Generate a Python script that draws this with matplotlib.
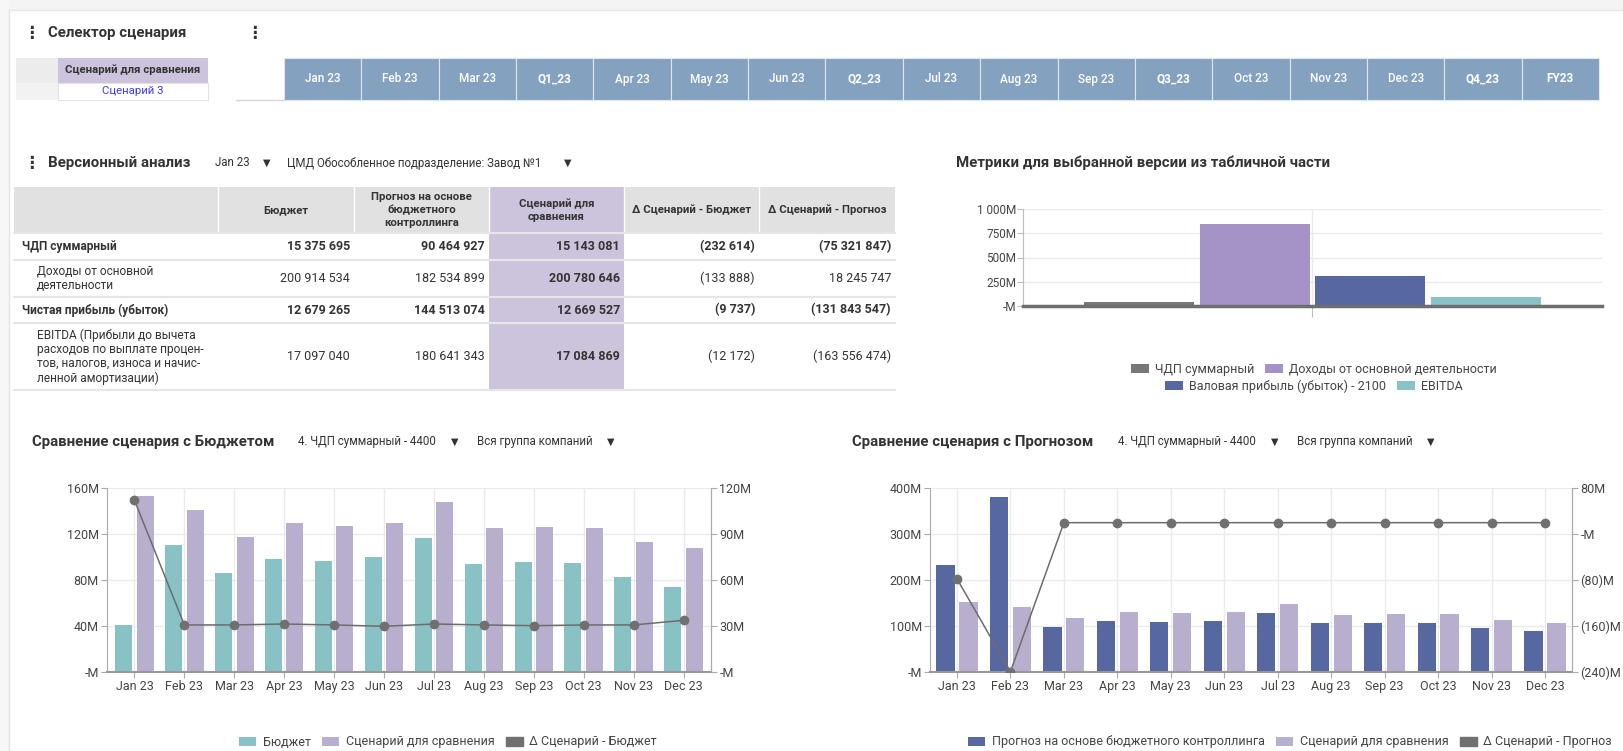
import numpy as np
import matplotlib
matplotlib.use("Agg")
import matplotlib.pyplot as plt
from matplotlib.patches import Rectangle

plt.rcParams['font.family'] = ['Roboto', 'DejaVu Sans']

# ---- data ----
periods = ["Jan 23", "Feb 23", "Mar 23", "Q1_23", "Apr 23", "May 23", "Jun 23", "Q2_23",
           "Jul 23", "Aug 23", "Sep 23", "Q3_23", "Oct 23", "Nov 23", "Dec 23", "Q4_23", "FY23"]

table_cols = ["Бюджет", "Прогноз на основе\nбюджетного\nконтроллинга", "Сценарий для\nсравнения",
              "Δ Сценарий - Бюджет", "Δ Сценарий - Прогноз"]
table_rows = ["ЧДП суммарный", "Доходы от основной\nдеятельности", "Чистая прибыль (убыток)",
              "EBITDA (Прибыли до вычета\nрасходов по выплате процен-\nтов, налогов, износа и начис-\nленной амортизации)"]
table_bold = [True, False, True, False]
table_values = [
    ["15 375 695", "90 464 927", "15 143 081", "(232 614)", "(75 321 847)"],
    ["200 914 534", "182 534 899", "200 780 646", "(133 888)", "18 245 747"],
    ["12 679 265", "144 513 074", "12 669 527", "(9 737)", "(131 843 547)"],
    ["17 097 040", "180 641 343", "17 084 869", "(12 172)", "(163 556 474)"],
]

metric_names = ["ЧДП суммарный", "Доходы от основной деятельности",
                "Валовая прибыль (убыток) - 2100", "EBITDA"]
metric_values = [38, 847, 312, 94]  # M

months = ["Jan 23", "Feb 23", "Mar 23", "Apr 23", "May 23", "Jun 23",
          "Jul 23", "Aug 23", "Sep 23", "Oct 23", "Nov 23", "Dec 23"]
budget = [40.9, 110.4, 86.4, 98.6, 96.5, 99.7, 116.8, 94.2, 95.7, 94.8, 82.6, 73.9]
scenario = [152.8, 141.2, 117.1, 129.9, 127.2, 129.9, 148.1, 124.9, 126.1, 125.5, 113.3, 107.5]
delta_budget = [112.0, 30.7, 30.7, 31.3, 30.7, 29.8, 31.3, 30.7, 30.2, 30.7, 30.7, 33.7]
forecast = [231.9, 380.4, 97.8, 110.9, 108.7, 110.9, 128.3, 106.5, 106.5, 106.5, 94.9, 89.1]
delta_forecast = [-78.0, -239.4, 19.7, 19.7, 19.7, 19.7, 19.7, 19.7, 19.7, 19.7, 19.7, 19.7]

# colors
TEAL = "#89c2c4"
LILAC = "#b8afcf"
NAVY = "#5767a0"
GRAY = "#777777"
VIOLET = "#a593c8"
HEAD_BLUE = "#84a2c0"
PURPLE_COL = "#cbc4dc"
TXT = "#333333"

W, H = 1624, 751
fig = plt.figure(figsize=(W / 100, H / 100), dpi=100)
fig.patch.set_facecolor("white")


def px_axes(x0, y0, x1, y1):
    return fig.add_axes([x0 / W, 1 - y1 / H, (x1 - x0) / W, (y1 - y0) / H])


# background / layout canvas in pixel coordinates
bg = fig.add_axes([0, 0, 1, 1])
bg.set_xlim(0, W)
bg.set_ylim(H, 0)
bg.axis("off")


def rect(x0, y0, x1, y1, color, **kw):
    bg.add_patch(Rectangle((x0, y0), x1 - x0, y1 - y0, facecolor=color, **kw))


rect(0, 0, W, 10, "#f4f4f4", lw=0)
rect(0, 0, 9, H, "#f7f7f7", lw=0)
bg.plot([9, 9], [10, H], color="#e4e4e4", lw=1)
bg.plot([9, W], [10, 10], color="#e8e8e8", lw=1)

dots = dict(fontsize=12, fontweight="bold", color=TXT, va="center", ha="center",
            family=["DejaVu Sans"])
title_kw = dict(fontsize=10.8, fontweight="bold", color=TXT, va="center")
arrow_kw = dict(fontsize=7, color=TXT, va="center", ha="center", family=["DejaVu Sans"])

# ---- scenario selector ----
bg.text(31, 33, "⋮", **dots)
bg.text(48, 33, "Селектор сценария", **title_kw)
bg.text(254, 33, "⋮", **dots)

rect(16, 58, 58, 83, "#ececec", lw=0)
rect(58, 58, 208, 83, PURPLE_COL, lw=0)
rect(16, 83, 58, 100, "#f2f2f2", lw=0)
rect(58, 83, 208, 100, "white", edgecolor="#e3e3e3", lw=0.8)
bg.text(133, 70, "Сценарий для сравнения", fontsize=8.2, fontweight="bold", color=TXT,
        ha="center", va="center")
bg.text(133, 91.5, "Сценарий 3", fontsize=8.2, color="#3a3aff", ha="center", va="center")
bg.plot([236, 284], [100, 100], color="#d6d6d6", lw=1)

cell_w = (1599 - 284) / len(periods)
for i, p in enumerate(periods):
    x0 = 284 + i * cell_w
    rect(x0, 58, x0 + cell_w, 100, HEAD_BLUE, edgecolor="#dfe6ee", lw=0.8)
    bold = p.startswith("Q") or p.startswith("FY")
    bg.text(x0 + cell_w / 2, 79, p, fontsize=8.5, color="white",
            fontweight="bold" if bold else "medium", ha="center", va="center")

# ---- version analysis table ----
bg.text(31, 163, "⋮", **dots)
bg.text(48, 163, "Версионный анализ", **title_kw)
bg.text(215, 163, "Jan 23", fontsize=8.3, color=TXT, va="center")
bg.text(267, 163, "▼", **arrow_kw)
bg.text(287, 163, "ЦМД Обособленное подразделение: Завод №1", fontsize=8.3, color=TXT, va="center")
bg.text(568, 163, "▼", **arrow_kw)

col_edges = [14, 218, 354, 489, 624, 759, 895]
row_edges = [187, 233, 260, 297, 323, 390]
rect(col_edges[0], row_edges[0], col_edges[-1], row_edges[1], "#e1e1e1", lw=0)
rect(col_edges[3], row_edges[0], col_edges[4], row_edges[-1], PURPLE_COL, lw=0)
for c in col_edges[1:-1]:
    bg.plot([c, c], [row_edges[0], row_edges[1]], color="white", lw=1)
for r in row_edges[1:]:
    bg.plot([col_edges[0], col_edges[-1]], [r, r], color="#e6e6e6", lw=1.6)

for j, name in enumerate(table_cols):
    cx = (col_edges[j + 1] + col_edges[j + 2]) / 2
    bg.text(cx, (row_edges[0] + row_edges[1]) / 2, name, fontsize=8.2, fontweight="bold",
            color=TXT, ha="center", va="center", linespacing=1.35)

for i, name in enumerate(table_rows):
    cy = (row_edges[i + 1] + row_edges[i + 2]) / 2
    bold = table_bold[i]
    bg.text(22 if bold else 37, cy, name, fontsize=8.6, color=TXT, va="center",
            fontweight="bold" if bold else "normal", linespacing=1.12)
    for j, v in enumerate(table_values[i]):
        b = bold or j == 2
        bg.text(col_edges[j + 2] - 4, cy, v, fontsize=9, color=TXT, va="center", ha="right",
                fontweight="bold" if b else "normal")

# ---- metrics chart ----
bg.text(956, 163, "Метрики для выбранной версии из табличной части", **title_kw)
ax1 = px_axes(1023, 209, 1602, 306)
offsets = [-0.3, -0.1, 0.1, 0.3]
m_colors = [GRAY, VIOLET, NAVY, TEAL]
m_bars = []
for k in range(len(metric_names)):
    b = ax1.bar(offsets[k], metric_values[k], width=0.19, color=m_colors[k], zorder=2,
                label=metric_names[k])
    m_bars.append(b)
ax1.set_xlim(-0.5, 0.5)
ax1.set_ylim(0, 1000)
ax1.set_yticks([0, 250, 500, 750, 1000])
ax1.set_yticklabels(["-M", "250M", "500M", "750M", "1 000M"])
ax1.set_xticks([0])
ax1.set_xticklabels([""])
ax1.tick_params(axis="x", length=8, color="#bdbdbd")
ax1.tick_params(axis="y", length=4, color="#bdbdbd", labelsize=8.5, labelcolor="#444", pad=1)
ax1.grid(True, color="#ebebeb", lw=1, zorder=0)
ax1.set_axisbelow(True)
for s in ["top", "right"]:
    ax1.spines[s].set_visible(False)
ax1.spines["left"].set_color("#bdbdbd")
ax1.spines["bottom"].set_color("#6e6e6e")
ax1.spines["bottom"].set_linewidth(2.5)

leg_kw = dict(frameon=False, fontsize=9, handlelength=1.4, handleheight=0.75,
              handletextpad=0.5, columnspacing=0.9, loc="center", borderpad=0)
l1 = fig.legend([m_bars[0], m_bars[1]], metric_names[:2], ncol=2,
                bbox_to_anchor=(1314 / W, 1 - 369 / H), **leg_kw)
l2 = fig.legend([m_bars[2], m_bars[3]], metric_names[2:], ncol=2,
                bbox_to_anchor=(1314 / W, 1 - 386 / H), **leg_kw)
for lg in (l1, l2):
    for t in lg.get_texts():
        t.set_color("#444")


# ---- comparison charts ----
def combo_chart(box, first, first_color, first_label, line_vals, line_label,
                lim_l, ticks_l, labels_l, lim_r, ticks_r, labels_r, xpad, title, tx, legend_x):
    ax = px_axes(*box)
    x = np.arange(len(months))
    b1 = ax.bar(x - 0.215, first, width=0.34, color=first_color, zorder=2)
    b2 = ax.bar(x + 0.215, scenario, width=0.34, color=LILAC, zorder=2)
    ax.set_xlim(-xpad, len(months) - 1 + xpad)
    ax.set_ylim(*lim_l)
    ax.set_yticks(ticks_l)
    ax.set_yticklabels(labels_l)
    ax.set_xticks(x)
    ax.set_xticklabels(months)
    ax.grid(True, color="#ebebeb", lw=1, zorder=0)
    ax.set_axisbelow(True)
    ax.tick_params(length=4, color="#aaaaaa", labelsize=9, labelcolor="#444", pad=2)
    ax.spines["top"].set_visible(False)
    for s in ["left", "right"]:
        ax.spines[s].set_color("#aaaaaa")
    ax.spines["bottom"].set_color("#999999")
    ax.spines["bottom"].set_linewidth(1.5)

    ax2 = ax.twinx()
    ax2.plot(x, line_vals, color="#6d6d6d", lw=1.1, marker="o", markersize=6,
             markerfacecolor="#707070", markeredgecolor="#707070", zorder=3)
    ax2.set_ylim(*lim_r)
    ax2.set_yticks(ticks_r)
    ax2.set_yticklabels(labels_r)
    ax2.tick_params(length=4, color="#aaaaaa", labelsize=9, labelcolor="#444", pad=2)
    ax2.spines["top"].set_visible(False)
    ax2.spines["right"].set_color("#aaaaaa")
    ax2.spines["left"].set_visible(False)
    ax2.spines["bottom"].set_visible(False)

    bg.text(tx, 442, title, **title_kw)
    bg.text(tx + 266, 442, "4. ЧДП суммарный - 4400", fontsize=8.3, color=TXT, va="center")
    bg.text(tx + 423, 442, "▼", **arrow_kw)
    bg.text(tx + 445, 442, "Вся группа компаний", fontsize=8.3, color=TXT, va="center")
    bg.text(tx + 579, 442, "▼", **arrow_kw)

    gray_patch = Rectangle((0, 0), 1, 1, color="#707070")
    lg = fig.legend([b1, b2, gray_patch], [first_label, "Сценарий для сравнения", line_label],
                    ncol=3, bbox_to_anchor=(legend_x / W, 1 - 742 / H), **leg_kw)
    for t in lg.get_texts():
        t.set_color("#444")


combo_chart((107, 488, 711, 672), budget, TEAL, "Бюджет", delta_budget, "Δ Сценарий - Бюджет",
            (0, 160), [0, 40, 80, 120, 160], ["-M", "40M", "80M", "120M", "160M"],
            (0, 120), [0, 30, 60, 90, 120], ["-M", "30M", "60M", "90M", "120M"],
            0.55, "Сравнение сценария с Бюджетом", 32, 448)

combo_chart((930, 488, 1572, 672), forecast, NAVY, "Прогноз на основе бюджетного контроллинга",
            delta_forecast, "Δ Сценарий - Прогноз",
            (0, 400), [0, 100, 200, 300, 400], ["-M", "100M", "200M", "300M", "400M"],
            (-240, 80), [-240, -160, -80, 0, 80], ["(240)M", "(160)M", "(80)M", "-M", "80M"],
            0.505, "Сравнение сценария с Прогнозом", 852, 1290)

fig.savefig("out.png", dpi=100)
